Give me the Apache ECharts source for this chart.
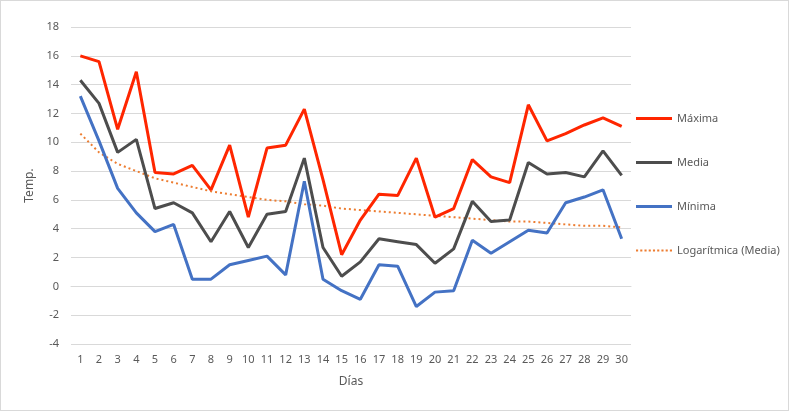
<!DOCTYPE html>
<html><head><meta charset="utf-8">
<script src="https://cdn.jsdelivr.net/npm/echarts@6/dist/echarts.min.js"></script>
<style>html,body{margin:0;padding:0;background:#fff}#c{width:789px;height:411px;box-sizing:border-box;border:1px solid #d9d9d9}</style>
</head><body><div id="c"></div>
<script>
const dias = ['1','2','3','4','5','6','7','8','9','10','11','12','13','14','15','16','17','18','19','20','21','22','23','24','25','26','27','28','29','30'];
const maxima = [16.0,15.6,10.9,14.9,7.9,7.8,8.4,6.7,9.8,4.8,9.6,9.8,12.3,7.4,2.2,4.6,6.4,6.3,8.9,4.8,5.4,8.8,7.6,7.2,12.6,10.1,10.6,11.2,11.7,11.1];
const media = [14.3,12.7,9.3,10.2,5.4,5.8,5.1,3.1,5.2,2.7,5.0,5.2,8.9,2.7,0.7,1.7,3.3,3.1,2.9,1.6,2.6,5.9,4.5,4.6,8.6,7.8,7.9,7.6,9.4,7.7];
const minima = [13.2,10.1,6.8,5.1,3.8,4.3,0.5,0.5,1.5,1.8,2.1,0.8,7.3,0.5,-0.3,-0.9,1.5,1.4,-1.4,-0.4,-0.3,3.2,2.3,3.1,3.9,3.7,5.8,6.2,6.7,3.3];
const tendencia = [10.6,9.3,8.5,8.0,7.5,7.2,6.9,6.6,6.4,6.2,6.0,5.9,5.7,5.6,5.4,5.3,5.2,5.1,5.0,4.9,4.8,4.7,4.6,4.5,4.5,4.4,4.3,4.2,4.2,4.1];
const yTicks = {min:-4, max:18, interval:2};

const font = 'Noto Sans';
const txt = '#595959';
const chart = echarts.init(document.getElementById('c'));
const mk = (name, data, color, w, type) => ({
  name, type:'line', data, showSymbol:false, symbol:'none', smooth:false,
  lineStyle:{color, width:w, type:type||'solid'}, itemStyle:{color},
  emphasis:{disabled:true}, animation:false
});
const solidIcon = 'path://M0,0L36,0L36,3L0,3Z';
let dots = '';
for (let i = 0; i < 9; i++) { const x = i * 4; dots += 'M' + x + ',0L' + (x + 2) + ',0L' + (x + 2) + ',2L' + x + ',2Z'; }
const dotIcon = 'path://' + dots;
chart.setOption({
  animation:false,
  textStyle:{fontFamily:font},
  grid:{left:70, right:157, top:26, bottom:66},
  xAxis:{type:'category', data:dias, boundaryGap:true,
    name:'Días', nameLocation:'middle', nameGap:32,
    nameTextStyle:{color:txt, fontSize:12, fontFamily:font},
    axisLine:{show:true, lineStyle:{color:'#d9d9d9'}}, axisTick:{show:false},
    axisLabel:{color:txt, fontSize:11, fontFamily:font, margin:10, interval:0}},
  yAxis:{type:'value', min:yTicks.min, max:yTicks.max, interval:yTicks.interval,
    name:'Temp.', nameLocation:'middle', nameGap:34, nameRotate:90,
    nameTextStyle:{color:txt, fontSize:12, fontFamily:font},
    axisLine:{show:false}, axisTick:{show:false},
    axisLabel:{color:txt, fontSize:11, fontFamily:font, margin:12},
    splitLine:{lineStyle:{color:'#d9d9d9', width:1}}},
  legend:{orient:'vertical', left:630, top:107, itemGap:33, itemWidth:36, itemHeight:15,
    symbolKeepAspect:true,
    textStyle:{color:txt, fontSize:11, fontFamily:font},
    data:[
      {name:'Máxima', icon:solidIcon, itemStyle:{color:'#FF2600'}},
      {name:'Media', icon:solidIcon, itemStyle:{color:'#4D4D4D'}},
      {name:'Mínima', icon:solidIcon, itemStyle:{color:'#4472C4'}},
      {name:'Logarítmica (Media)', icon:dotIcon, itemStyle:{color:'#ED7D31'}}
    ]},
  series:[
    mk('Logarítmica (Media)', tendencia, '#ED7D31', 2, [2,3]),
    mk('Mínima', minima, '#4472C4', 3),
    mk('Media', media, '#4D4D4D', 3),
    mk('Máxima', maxima, '#FF2600', 3)
  ]
});
</script></body></html>
